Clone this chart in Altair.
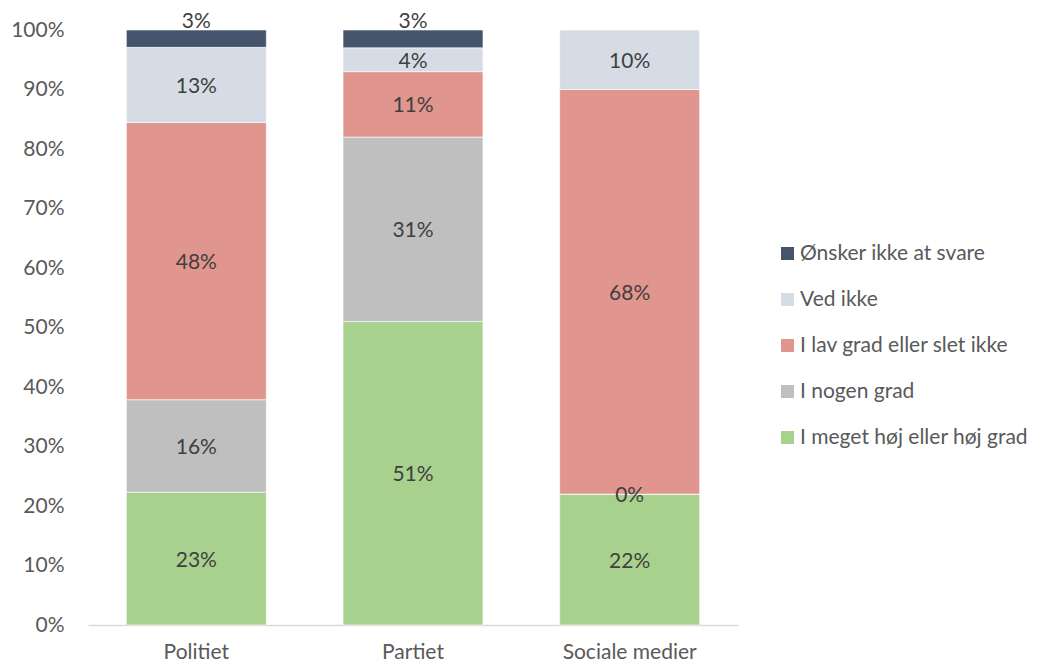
import altair as alt
import pandas as pd

categories = ["Politiet", "Partiet", "Sociale medier"]
series = ["I meget høj eller høj grad", "I nogen grad", "I lav grad eller slet ikke", "Ved ikke", "Ønsker ikke at svare"]
colors = ["#A9D18E", "#BFBFBF", "#E0968E", "#D6DCE5", "#44546A"]
values = {
    "I meget høj eller høj grad": [23, 51, 22],
    "I nogen grad": [16, 31, 0],
    "I lav grad eller slet ikke": [48, 11, 68],
    "Ved ikke": [13, 4, 10],
    "Ønsker ikke at svare": [3, 3, None],
}

rows = []
for si, s in enumerate(series):
    for ci, c in enumerate(categories):
        v = values[s][ci]
        if v is None:
            continue
        rows.append({"cat": c, "series": s, "ord": si, "value": v})
df = pd.DataFrame(rows)

legend_order = list(reversed(series))
legend_colors = list(reversed(colors))

FONT = "Lato"
FS = 21

base = alt.Chart(df)

x_enc = alt.X(
    "cat:N",
    sort=categories,
    title=None,
    scale=alt.Scale(paddingInner=0.354, paddingOuter=0.177),
    axis=alt.Axis(
        labelAngle=0, labelFontSize=FS, labelColor="#595959", labelFont=FONT,
        domainColor="#D9D9D9", domainWidth=1.5, ticks=False, labelPadding=16,
    ),
)

bars = base.mark_bar(stroke="white", strokeWidth=0.6).encode(
    x=x_enc,
    y=alt.Y(
        "value:Q",
        stack="normalize",
        title=None,
        scale=alt.Scale(domain=[0, 1]),
        axis=alt.Axis(
            format=".0%", values=[i / 10 for i in range(11)], labelFontSize=FS,
            labelColor="#595959", labelFont=FONT, domain=False, ticks=False,
            grid=False, labelPadding=24,
        ),
    ),
    color=alt.Color(
        "series:N",
        scale=alt.Scale(domain=legend_order, range=legend_colors),
        legend=alt.Legend(
            title=None, orient="none", legendX=689, legendY=213,
            symbolType="square", symbolSize=169, symbolStrokeWidth=0,
            labelFontSize=FS, labelColor="#595959", labelFont=FONT,
            rowPadding=24, labelOffset=2, labelLimit=400,
        ),
    ),
    order=alt.Order("ord:Q", sort="ascending"),
)

label_base = (
    base.transform_joinaggregate(total="sum(value)", groupby=["cat"])
    .transform_calculate(frac="datum.value / datum.total", label="datum.value + '%'")
    .transform_stack(stack="frac", as_=["y0", "y1"], groupby=["cat"], sort=[alt.SortField("ord", order="ascending")])
    .transform_calculate(mid="(datum.y0 + datum.y1) / 2")
)

labels_main = label_base.transform_filter("datum.ord != 4").mark_text(
    fontSize=FS, color="#404040", font=FONT, baseline="middle", dy=2
).encode(
    x=alt.X("cat:N", sort=categories),
    y=alt.Y("mid:Q", scale=alt.Scale(domain=[0, 1])),
    text="label:N",
)

labels_top = label_base.transform_filter("datum.ord == 4").mark_text(
    fontSize=FS, color="#404040", font=FONT, baseline="middle", dy=-17
).encode(
    x=alt.X("cat:N", sort=categories),
    y=alt.Y("mid:Q", scale=alt.Scale(domain=[0, 1])),
    text="label:N",
)

chart = (
    alt.layer(bars, labels_main, labels_top)
    .properties(
        width=650, height=595,
        autosize=alt.AutoSizeParams(type="none"),
        padding={"left": 80, "top": 22, "right": 305, "bottom": 40},
    )
    .configure(background="white", view=alt.ViewConfig(stroke=None))
)

chart.save("out.html", embed_options={"renderer": "svg", "actions": False})
